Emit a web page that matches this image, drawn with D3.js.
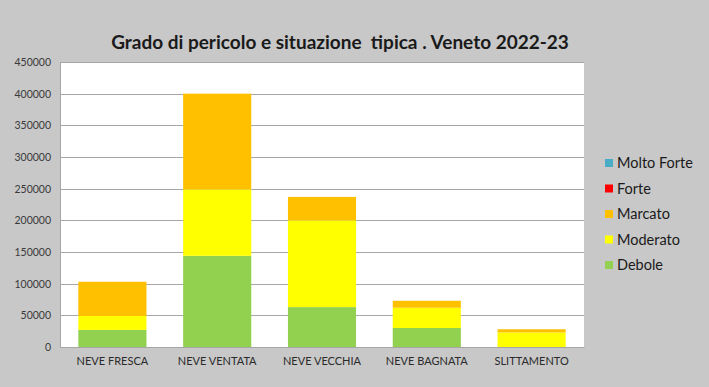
<!DOCTYPE html>
<html>
<head>
<meta charset="utf-8">
<script src="https://cdn.jsdelivr.net/npm/d3@7"></script>
<style>
  body { margin: 0; background: #c8c8c8; }
  svg { display: block; font-family: Lato, "Open Sans", sans-serif; }
</style>
</head>
<body>
<svg id="chart" width="709" height="387"></svg>
<script>
// categories and stacked values
var categories = ['NEVE FRESCA', 'NEVE VENTATA', 'NEVE VECCHIA', 'NEVE BAGNATA', 'SLITTAMENTO'];
var debole = [27000, 144000, 63000, 30000, 0];
var moderato = [22000, 105000, 137000, 32000, 23000];
var marcato = [54000, 151000, 37000, 11000, 5000];
var forte = [0, 0, 0, 0, 0];
var moltoForte = [0, 0, 0, 0, 0];
var yTicks = [0, 50000, 100000, 150000, 200000, 250000, 300000, 350000, 400000, 450000];

var seriesNames = ['Debole', 'Moderato', 'Marcato', 'Forte', 'Molto Forte'];
var seriesValues = [debole, moderato, marcato, forte, moltoForte];
var colors = ['#92d050', '#ffff00', '#ffc000', '#ff0000', '#4bacc6'];

var svg = d3.select('#chart');
var width = 709, height = 387;
var margin = { top: 62, bottom: 40, left: 60, right: 125 };

// build a table for d3.stack
var table = categories.map(function(c, i) {
  var row = { cat: c };
  seriesNames.forEach(function(s, j) { row[s] = seriesValues[j][i]; });
  return row;
});
var stacked = d3.stack().keys(seriesNames)(table);

var xScale = d3.scaleBand()
  .domain(categories)
  .range([margin.left, width - margin.right])
  .paddingInner(0.35)
  .paddingOuter(0.175);

var yScale = d3.scaleLinear()
  .domain([0, 450000])
  .range([height - margin.bottom, margin.top]);

// plot area
svg.append('rect')
  .attr('x', margin.left)
  .attr('y', margin.top)
  .attr('width', width - margin.right - margin.left)
  .attr('height', height - margin.bottom - margin.top)
  .attr('fill', '#ffffff');

// gridlines
svg.append('g')
  .selectAll('line')
  .data(yTicks)
  .enter()
  .append('line')
  .attr('x1', margin.left)
  .attr('x2', width - margin.right)
  .attr('y1', function(d) { return Math.round(yScale(d)) + 0.5; })
  .attr('y2', function(d) { return Math.round(yScale(d)) + 0.5; })
  .attr('stroke', '#a6a6a6')
  .attr('stroke-width', 1);

// bars
svg.append('g')
  .selectAll('g')
  .data(stacked)
  .enter()
  .append('g')
  .attr('fill', function(d, i) { return colors[i]; })
  .selectAll('rect')
  .data(function(d) { return d; })
  .enter()
  .append('rect')
  .attr('x', function(d) { return xScale(d.data.cat); })
  .attr('y', function(d) { return yScale(d[1]); })
  .attr('width', xScale.bandwidth())
  .attr('height', function(d) { return yScale(d[0]) - yScale(d[1]); });

// y axis
var yAxis = svg.append('g')
  .attr('transform', 'translate(' + margin.left + ',0)')
  .call(d3.axisLeft(yScale).tickValues(yTicks).tickSize(0).tickPadding(9).tickFormat(d3.format('d')));
yAxis.select('.domain').attr('stroke', '#a6a6a6');
yAxis.selectAll('text').attr('font-size', 10.5).attr('fill', '#3a3a3a').attr('font-family', 'Lato, sans-serif');

// x axis
var xAxis = svg.append('g')
  .attr('transform', 'translate(0,' + (height - margin.bottom) + ')')
  .call(d3.axisBottom(xScale).tickSize(0).tickPadding(10));
xAxis.select('.domain').attr('stroke', '#a6a6a6');
xAxis.selectAll('text').attr('font-size', 11).attr('fill', '#2a2a2a').attr('font-family', 'Lato, sans-serif');

// title
svg.append('text')
  .attr('x', 340)
  .attr('y', 49)
  .attr('text-anchor', 'middle')
  .attr('font-size', 19)
  .attr('font-weight', 'bold')
  .attr('fill', '#1a1a1a')
  .style('white-space', 'pre')
  .text('Grado di pericolo e situazione  tipica . Veneto 2022-23');

// legend (top to bottom: Molto Forte ... Debole)
var legendOrder = seriesNames.slice().reverse();
var legendColors = colors.slice().reverse();
var legend = svg.append('g')
  .selectAll('g')
  .data(legendOrder)
  .enter()
  .append('g')
  .attr('transform', function(d, i) { return 'translate(605,' + (163 + i * 25.5) + ')'; });

legend.append('rect')
  .attr('x', 0)
  .attr('y', -4)
  .attr('width', 8)
  .attr('height', 8)
  .attr('fill', function(d, i) { return legendColors[i]; });

legend.append('text')
  .attr('x', 12)
  .attr('y', 5)
  .attr('font-size', 14.5)
  .attr('fill', '#1a1a1a')
  .text(function(d) { return d; });
</script>
</body>
</html>
